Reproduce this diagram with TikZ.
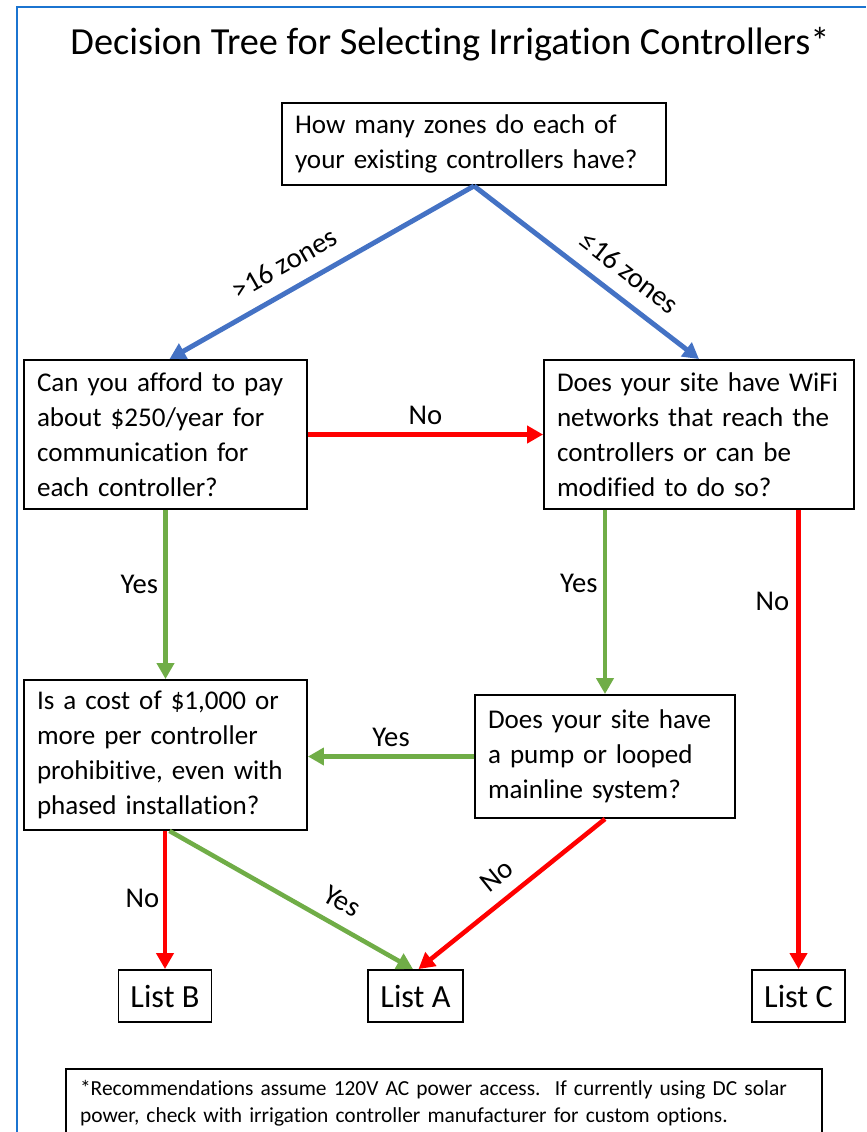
\documentclass[tikz,border=0pt]{standalone}
\usepackage{fontspec}
\setmainfont{Carlito}[Ligatures=NoCommon]
\usetikzlibrary{arrows.meta}

\definecolor{zoneblue}{HTML}{4472C4}
\definecolor{yesgreen}{HTML}{70AD47}
\definecolor{nored}{HTML}{FF0000}
\definecolor{framecol}{HTML}{1B74D0}

\tikzset{
  qbox/.style={draw, line width=1.1pt, align=left, inner xsep=0.26cm, inner ysep=0pt,
    font=\fontsize{15.4}{19.9}\selectfont},
  listbox/.style={draw, line width=1.1pt, align=center, inner sep=0pt,
    minimum width=1.86cm, minimum height=1.04cm, font=\fontsize{18.4}{22}\selectfont},
  lbl/.style={font=\fontsize{16.3}{19.9}\selectfont, inner sep=2pt},
  tip/.style={-{Triangle[length=0.32cm,width=0.34cm]}},
  zonearrow/.style={tip, draw=zoneblue, line width=2.8pt},
  yesarrow/.style={tip, draw=yesgreen, line width=2.6pt},
  noarrow/.style={tip, draw=nored, line width=2.6pt}
}

\begin{document}
\begin{tikzpicture}[x=0.02cm, y=-0.02cm]
\useasboundingbox (0,0) rectangle (866,1132);
\draw[framecol, line width=1.5pt] (17,1132) -- (17,7) -- (866,7);

% title
\node (title) at (450,44) {\fontsize{21.8}{26}\selectfont Decision Tree for Selecting Irrigation Controllers*};

% questions
\node[qbox, text width=7.16cm, minimum height=1.64cm] (zones) at (474,144)
  {How many zones do each of\\your existing controllers have?};
\node[qbox, text width=5.14cm, minimum height=2.98cm] (afford) at (165.5,434.5)
  {Can you afford to pay\\about \$250/year for\\communication for\\each controller?};
\node[qbox, text width=5.68cm, minimum height=2.98cm] (wifi) at (699,434.5)
  {Does your site have WiFi\\networks that reach the\\controllers or can be\\modified to do so?};
\node[qbox, text width=5.14cm, minimum height=3.0cm] (cost) at (165.5,755)
  {Is a cost of \$1,000 or\\more per controller\\prohibitive, even with\\phased installation?};
\node[qbox, text width=4.68cm, minimum height=2.46cm] (pump) at (605,756.5)
  {Does your site have\\a pump or looped\\mainline system?};

% lists
\node[listbox] (listB) at (165,996) {List B};
\node[listbox, minimum width=1.9cm] (listA) at (415.5,996) {List A};
\node[listbox] (listC) at (798.5,996) {List C};

% footnote
\node[qbox, text width=14.56cm, inner xsep=0.28cm, minimum height=1.38cm,
  font=\fontsize{12.2}{15.4}\selectfont] (note) at (444,1103.5)
  {*Recommendations assume 120V AC power access.\ \ If currently using DC solar\\power, check with irrigation controller manufacturer for custom options.};

% zones
\draw[zonearrow] (zones.south) -- node[lbl, pos=0.58, above=6pt, sloped] {>16 zones} ([xshift=0.08cm]afford.north);
\draw[zonearrow] (zones.south) -- node[lbl, pos=0.62, above=6pt, sloped] {≤16 zones} (wifi.north);

% afford / wifi
\draw[noarrow] (afford.east) -- node[lbl, above=2pt] {No} (wifi.west);
\draw[yesarrow] (afford.south) -- node[lbl, pos=0.44, left=1pt] {Yes} (cost.north);
\draw[yesarrow] (wifi.south -| pump.north) -- node[lbl, pos=0.4, left=1pt] {Yes} (pump.north);
\draw[noarrow] (wifi.south -| listC.north) -- node[lbl, pos=0.2, left=2pt] {No} (listC.north);

% pump / cost
\draw[yesarrow] (pump.west) -- node[lbl, above=2pt] {Yes} (cost.east |- pump.west);
\draw[noarrow] (cost.south -| listB.north) -- node[lbl, pos=0.49, left=0pt] {No} (listB.north);
\draw[yesarrow] ([xshift=0.08cm]cost.south) -- node[lbl, pos=0.66, above=5pt, sloped] {Yes} ([xshift=-0.05cm]listA.north);
\draw[noarrow] (pump.south) -- node[lbl, pos=0.5, above=5pt, sloped] {No} ([xshift=0.06cm]listA.north);
\end{tikzpicture}
\end{document}
